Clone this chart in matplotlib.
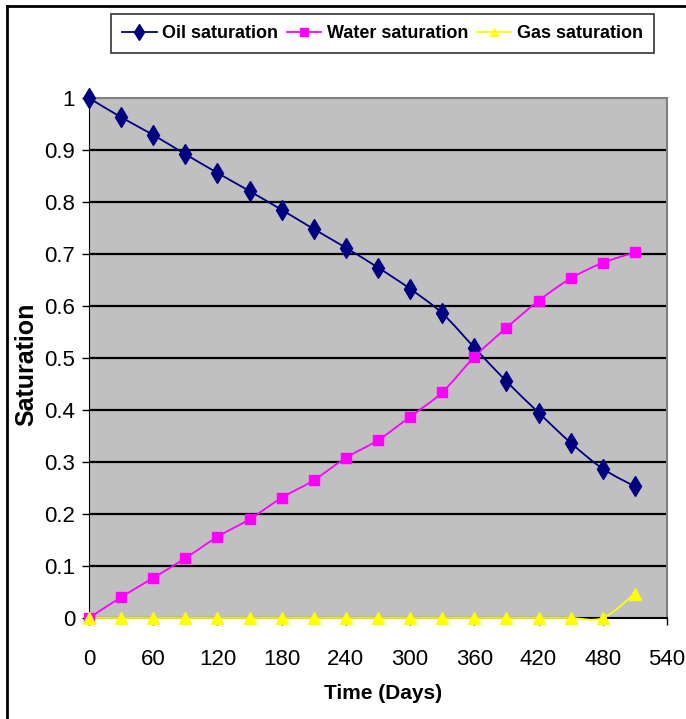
import matplotlib
matplotlib.use("Agg")
import matplotlib.pyplot as plt
from matplotlib.path import Path
from matplotlib.patches import PathPatch
from matplotlib.lines import Line2D
from matplotlib import font_manager
import numpy as np

# datos
days = [0, 30, 60, 90, 120, 150, 180, 210, 240, 270, 300, 330, 360, 390, 420, 450, 480, 510]
oil_sat = [1.0, 0.963, 0.929, 0.892, 0.856, 0.821, 0.785, 0.748, 0.712, 0.674, 0.633, 0.586,
           0.520, 0.455, 0.395, 0.337, 0.287, 0.253]
water_sat = [0.0, 0.040, 0.077, 0.115, 0.156, 0.190, 0.231, 0.265, 0.308, 0.342, 0.387, 0.434,
             0.502, 0.558, 0.610, 0.653, 0.683, 0.703]
gas_sat = [0, 0, 0, 0, 0, 0, 0, 0, 0, 0, 0, 0, 0, 0, 0, 0, 0, 0.047]
x_ticks = list(range(0, 541, 60))
y_ticks = [0, 0.1, 0.2, 0.3, 0.4, 0.5, 0.6, 0.7, 0.8, 0.9, 1]
y_tick_labels = ["0", "0.1", "0.2", "0.3", "0.4", "0.5", "0.6", "0.7", "0.8", "0.9", "1"]

names = {f.name for f in font_manager.fontManager.ttflist}
fam = "Liberation Sans Narrow" if "Liberation Sans Narrow" in names else "Liberation Sans"
plt.rcParams["font.family"] = [fam, "DejaVu Sans"]


def smooth_path(xs, ys):
    # curva suavizada tipo Excel (Bezier con control de Catmull-Rom)
    pts = np.column_stack([xs, ys]).astype(float)
    verts = [pts[0]]
    codes = [Path.MOVETO]
    n = len(pts)
    for i in range(n - 1):
        p0 = pts[max(i - 1, 0)]
        p1 = pts[i]
        p2 = pts[i + 1]
        p3 = pts[min(i + 2, n - 1)]
        c1 = p1 + (p2 - p0) / 6.0
        c2 = p2 - (p3 - p1) / 6.0
        verts += [c1, c2, p2]
        codes += [Path.CURVE4] * 3
    return Path(verts, codes)


fig = plt.figure(figsize=(6.86, 7.19), dpi=100)
ax = fig.add_axes([0.1297, 0.1405, 0.8426, 0.7232])
ax.set_facecolor("#C0C0C0")

series = [
    (oil_sat, "#000080", "d", 10, "Oil saturation"),
    (water_sat, "#FF00FF", "s", 7, "Water saturation"),
    (gas_sat, "#FFFF00", "^", 8, "Gas saturation"),
]

for vals, col, mk, ms, lab in series:
    patch = PathPatch(smooth_path(days, vals), facecolor="none", edgecolor=col, lw=1.3,
                      zorder=3, clip_on=False)
    ax.add_patch(patch)
    ax.plot(days, vals, linestyle="none", marker=mk, ms=ms, color=col, zorder=4, clip_on=False)

ax.set_xlim(0, 540)
ax.set_ylim(0, 1)
ax.set_xticks(x_ticks)
ax.set_yticks(y_ticks)
ax.set_yticklabels(y_tick_labels)
ax.tick_params(axis="both", labelsize=16, direction="out", length=5, width=1, color="black")
ax.tick_params(axis="x", pad=17)
ax.tick_params(axis="y", pad=5)

for yv in y_ticks[1:-1]:
    ax.axhline(yv, color="black", lw=1.6, zorder=1)

ax.spines["top"].set_color("#808080")
ax.spines["right"].set_color("#808080")
ax.spines["top"].set_linewidth(1.5)
ax.spines["right"].set_linewidth(1.5)
ax.spines["left"].set_color("black")
ax.spines["bottom"].set_color("black")
ax.spines["bottom"].set_linewidth(1.5)

fig.text(0.038, 0.494, "Saturation", rotation=90, ha="center", va="center",
         fontsize=18, fontweight="bold")
fig.text(0.558, 0.036, "Time (Days)", ha="center", va="center",
         fontsize=15, fontweight="bold")

handles = [Line2D([], [], color=c, marker=m, ms=ms * 0.8, lw=1.3) for _, c, m, ms, _ in series]
labels = [s[4] for s in series]
leg = fig.legend(handles, labels, loc="center", bbox_to_anchor=(0.5576, 0.9534), ncol=3,
                 frameon=True, fancybox=False, edgecolor="black",
                 prop={"weight": "bold", "size": 13}, handlelength=1.9, handletextpad=0.3,
                 columnspacing=0.5, borderpad=0.6)
leg.get_frame().set_linewidth(1.2)

# borde exterior (solo arriba e izquierda visibles)
fig.add_artist(Line2D([0.0102, 1.0], [0.991, 0.991], color="black", lw=2, transform=fig.transFigure))
fig.add_artist(Line2D([0.0102, 0.0102], [0.0, 0.991], color="black", lw=2, transform=fig.transFigure))

fig.savefig("out.png", dpi=100)
